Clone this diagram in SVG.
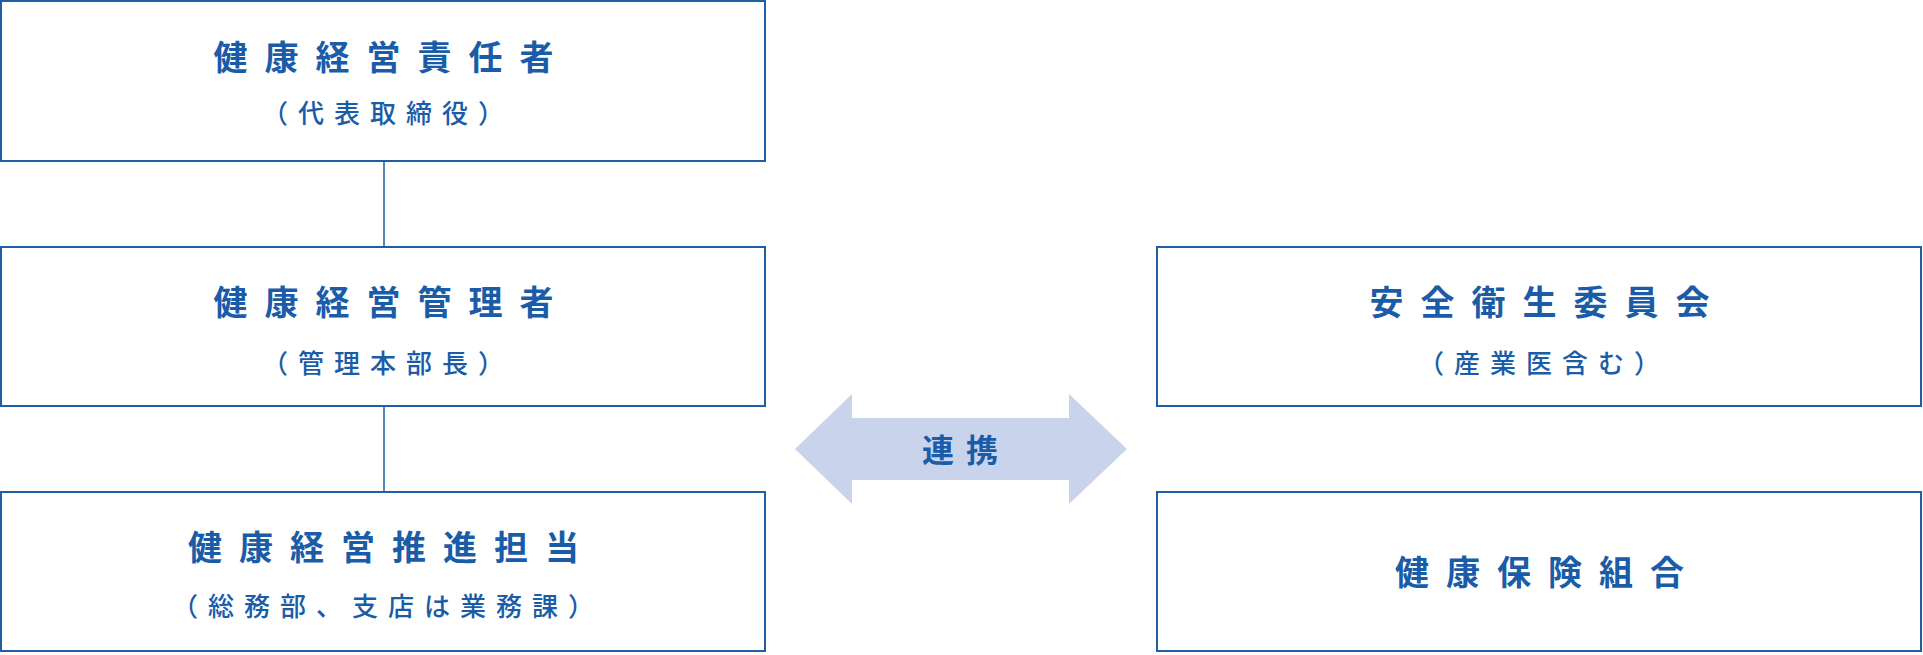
<svg xmlns="http://www.w3.org/2000/svg" width="1923" height="655" viewBox="0 0 1923 655">
<style>
.box{fill:#fff;stroke:#1f5fa6;stroke-width:2}
.t{font-family:"Noto Sans CJK JP",sans-serif;fill:#1a5ca8;font-weight:bold;text-anchor:middle}
.h{font-size:34px;letter-spacing:17px}
.s{font-size:26px;letter-spacing:10px;font-weight:500}
.ln{stroke:#1f5fa6;stroke-width:1.5}
</style>
<rect width="1923" height="655" fill="#fff"/>
<g id="connectors">
<line class="ln" x1="384" y1="161" x2="384" y2="247"/>
<line class="ln" x1="384" y1="406" x2="384" y2="492"/>
<polygon points="795,449 852,394 852,418 1069,418 1069,394 1127,449 1069,504 1069,480 852,480 852,504" fill="#c9d3ec"/>
<text class="t" x="966" y="462" style="font-size:32px;letter-spacing:12px">連携</text>
</g>
<g id="n1"><rect class="box" x="1" y="1" width="764" height="160"/>
<text class="t h" x="392" y="70">健康経営責任者</text>
<text class="t s" x="388" y="123">（代表取締役）</text></g>
<g id="n2"><rect class="box" x="1" y="247" width="764" height="159"/>
<text class="t h" x="392" y="315">健康経営管理者</text>
<text class="t s" x="388" y="373">（管理本部長）</text></g>
<g id="n3"><rect class="box" x="1" y="492" width="764" height="159"/>
<text class="t h" x="392" y="560">健康経営推進担当</text>
<text class="t s" x="388" y="616">（総務部、支店は業務課）</text></g>
<g id="n4"><rect class="box" x="1157" y="247" width="764" height="159"/>
<text class="t h" x="1548" y="315">安全衛生委員会</text>
<text class="t s" x="1544" y="373">（産業医含む）</text></g>
<g id="n5"><rect class="box" x="1157" y="492" width="764" height="159"/>
<text class="t h" x="1548" y="585">健康保険組合</text></g>
</svg>
